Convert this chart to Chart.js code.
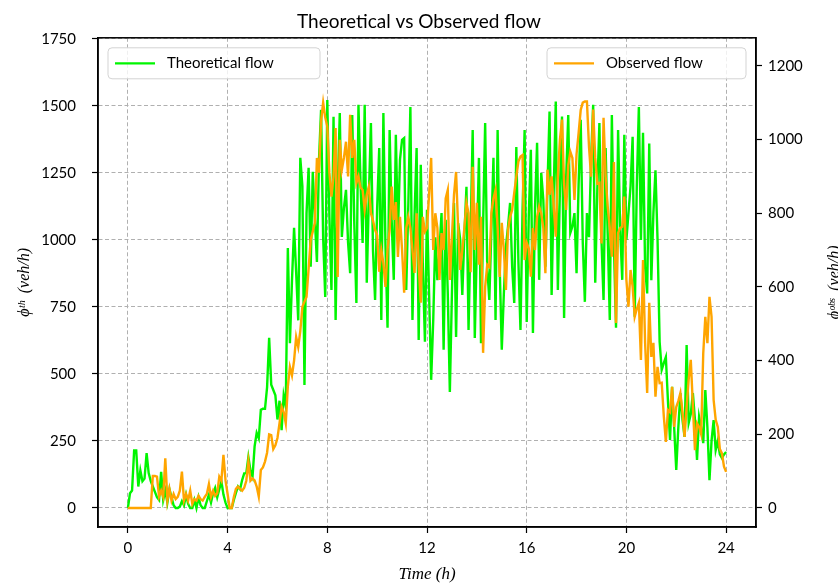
<!DOCTYPE html>
<html>
<head>
<meta charset="utf-8">
<script src="https://cdn.jsdelivr.net/npm/chart.js@4.4.1/dist/chart.umd.min.js"></script>
<style>
  html, body { margin: 0; padding: 0; background: #ffffff; overflow: hidden; }
  #wrap { width: 838px; height: 583px; position: relative; }
</style>
</head>
<body>
<div id="wrap"><canvas id="flowChart" width="838" height="583"></canvas></div>
<script>
// Tick positions for each axis
const timeTicks = [0, 4, 8, 12, 16, 20, 24];
const theoreticalTicks = [0, 250, 500, 750, 1000, 1250, 1500, 1750];
const observedTicks = [0, 200, 400, 600, 800, 1000, 1200];

// Time of day in hours, one sample every 5 minutes (0 h to 24 h)
const hours = Array.from({ length: 289 }, (_, i) => i / 12);

// Theoretical flow (veh/h), left axis
const theoreticalFlow = [
  0, 55, 65, 215, 215, 80, 140, 100, 110, 205, 130, 100,
  80, 60, 40, 30, 135, 30, 65, 20, 70, 40, 10, 0,
  0, 5, 25, 10, 50, 15, 0, 0, 30, 0, 40, 10,
  0, 0, 25, 50, 20, 55, 75, 40, 70, 100, 50, 20,
  0, 0, 0, 30, 56, 80, 70, 104, 129, 130, 190, 140,
  117, 230, 280, 260, 366, 370, 370, 450, 635, 460, 440, 420,
  330, 400, 290, 420, 380, 970, 615, 850, 1045, 880, 700, 1306,
  1200, 459, 1100, 1269, 900, 1254, 1080, 918, 1300, 1485, 1010, 787,
  1522, 1090, 813, 1459, 701, 1180, 1473, 1011, 1120, 1187, 990, 876,
  1466, 1060, 765, 1504, 1210, 989, 1504, 840, 1160, 1436, 960, 776,
  1120, 1343, 701, 1473, 980, 672, 1410, 1070, 851, 1392, 1020, 1300,
  1373, 1380, 813, 1130, 1496, 701, 1090, 1343, 627, 1280, 900, 620,
  1112, 800, 478, 700, 1010, 850, 963, 1100, 590, 1075, 800, 433,
  800, 1138, 638, 1063, 1000, 795, 1020, 1198, 664, 1030, 1410, 634,
  980, 1306, 615, 1050, 1436, 900, 776, 1040, 1306, 701, 1410, 900,
  590, 800, 974, 1050, 1138, 900, 765, 1347, 920, 664, 1110, 1410,
  694, 1090, 1336, 653, 1120, 1362, 851, 1250, 1150, 900, 1200, 1479,
  795, 1180, 1516, 813, 1190, 1460, 709, 1230, 1466, 1026, 1050, 1100,
  876, 1210, 1448, 990, 769, 1100, 1010, 1300, 1504, 840, 1190, 1436,
  1000, 776, 1343, 1020, 701, 1466, 980, 672, 1410, 1040, 851, 1392,
  1000, 1100, 1200, 1385, 713, 1200, 1496, 1000, 1400, 900, 800, 1360,
  850, 1100, 1260, 1000, 620, 515, 540, 563, 400, 254, 452, 300,
  142, 300, 429, 330, 265, 608, 317, 350, 429, 330, 179, 340,
  300, 242, 440, 300, 104, 250, 328, 216, 250, 200, 186, 200, 209
];

// Observed flow (veh/h), right axis
const observedFlow = [
  0, 0, 0, 0, 0, 0, 0, 0, 0, 0, 0, 0,
  87, 87, 85, 31, 47, 30, 135, 20, 52, 20, 38, 24,
  30, 47, 99, 20, 38, 20, 47, 11, 24, 20, 33, 24,
  20, 30, 38, 65, 30, 47, 33, 40, 85, 74, 144, 74,
  38, 0, 0, 30, 52, 58, 52, 47, 55, 74, 126, 74,
  80, 75, 58, 31, 103, 110, 126, 150, 200, 198, 160, 170,
  190, 230, 275, 260, 230, 330, 383, 360, 400, 464, 437, 480,
  546, 560, 573, 650, 728, 750, 774, 950, 910, 1050, 1100, 1060,
  1035, 910, 845, 900, 1031, 627, 999, 918, 950, 994, 900, 1067,
  950, 999, 882, 900, 870, 863, 809, 850, 872, 800, 780, 755,
  740, 641, 700, 665, 600, 700, 755, 872, 782, 830, 681, 790,
  700, 584, 760, 790, 760, 700, 638, 800, 660, 557, 790, 750,
  760, 850, 950, 700, 800, 760, 619, 746, 700, 840, 863, 619,
  736, 850, 912, 760, 646, 700, 760, 828, 800, 640, 926, 700,
  828, 660, 790, 421, 600, 660, 654, 800, 840, 863, 760, 627,
  774, 700, 592, 755, 790, 809, 855, 899, 940, 954, 958, 673,
  720, 705, 628, 760, 700, 790, 818, 800, 760, 637, 918, 850,
  900, 820, 736, 900, 1000, 1054, 880, 809, 930, 967, 950, 836,
  960, 1018, 1080, 1100, 1103, 1103, 980, 899, 1081, 950, 880, 882,
  718, 1059, 900, 818, 760, 682, 939, 502, 746, 760, 763, 845,
  619, 546, 646, 600, 519, 540, 557, 402, 673, 450, 312, 557,
  410, 448, 302, 383, 339, 340, 250, 179, 266, 260, 329, 220,
  274, 290, 312, 260, 193, 274, 350, 402, 280, 157, 230, 220,
  200, 420, 519, 447, 573, 519, 293, 239, 220, 160, 148, 112, 98
];

const GREEN = '#00f500';
const ORANGE = '#ffa500';
const tickFont = { family: 'Lato', size: 15 };
const mathFont = { family: "'Liberation Serif', 'DejaVu Serif', serif", style: 'italic', size: 16, lineHeight: 1.2 };
const plainNumber = (v) => String(v);

const fixedTicks = (values) => (scale) => { scale.ticks = values.map(v => ({ value: v })); };

// Black frame round the plotting area, drawn above the lines
const framePlugin = {
  id: 'frame',
  afterDatasetsDraw(chart) {
    const { ctx, chartArea: a } = chart;
    ctx.save();
    ctx.strokeStyle = '#000';
    ctx.lineWidth = 1.5;
    ctx.strokeRect(a.left, a.top, a.right - a.left, a.bottom - a.top);
    ctx.restore();
  }
};

function roundRect(ctx, x, y, w, h, r) {
  ctx.beginPath();
  ctx.moveTo(x + r, y);
  ctx.lineTo(x + w - r, y);
  ctx.quadraticCurveTo(x + w, y, x + w, y + r);
  ctx.lineTo(x + w, y + h - r);
  ctx.quadraticCurveTo(x + w, y + h, x + w - r, y + h);
  ctx.lineTo(x + r, y + h);
  ctx.quadraticCurveTo(x, y + h, x, y + h - r);
  ctx.lineTo(x, y + r);
  ctx.quadraticCurveTo(x, y, x + r, y);
  ctx.closePath();
}

// One legend box per axis: theoretical at top left, observed at top right
const dualLegendPlugin = {
  id: 'dualLegend',
  afterDraw(chart) {
    const { ctx, chartArea: a } = chart;
    const boxH = 31;
    const entries = [
      { ds: chart.data.datasets[1], x: a.left + 10, w: 212 },
      { ds: chart.data.datasets[0], x: a.right - 10 - 199, w: 199 }
    ];
    ctx.save();
    entries.forEach(({ ds, x, w }) => {
      const y = a.top + 10;
      roundRect(ctx, x, y, w, boxH, 4);
      ctx.fillStyle = 'rgba(255,255,255,0.8)';
      ctx.fill();
      ctx.strokeStyle = '#d3d3d3';
      ctx.lineWidth = 1;
      ctx.stroke();
      const cy = y + boxH / 2;
      ctx.strokeStyle = ds.borderColor;
      ctx.lineWidth = 2.2;
      ctx.beginPath();
      ctx.moveTo(x + 7, cy);
      ctx.lineTo(x + 47, cy);
      ctx.stroke();
      ctx.fillStyle = '#000';
      ctx.font = '15px Lato';
      ctx.textAlign = 'left';
      ctx.textBaseline = 'middle';
      ctx.fillText(ds.label, x + 59, cy);
    });
    ctx.restore();
  }
};

// Right axis title, reading upward like the left one
const rightTitlePlugin = {
  id: 'rightTitle',
  afterDraw(chart) {
    const { ctx, chartArea: a } = chart;
    ctx.save();
    ctx.translate(839, (a.top + a.bottom) / 2);
    ctx.rotate(-Math.PI / 2);
    ctx.font = "italic 16px 'Liberation Serif', 'DejaVu Serif', serif";
    ctx.fillStyle = '#000';
    ctx.textAlign = 'center';
    ctx.textBaseline = 'alphabetic';
    ctx.fillText('ϕᵒᵇˢ  (veh/h)', 0, 0);
    ctx.restore();
  }
};

const gridBase = { color: '#b0b0b0', lineWidth: 1, tickColor: '#000', tickLength: 6, tickWidth: 1.2 };
const borderBase = { display: true, color: '#000', width: 1.5, dash: [4, 2.5] };

new Chart(document.getElementById('flowChart'), {
  type: 'line',
  data: {
    datasets: [
      {
        label: 'Observed flow',
        data: hours.map((h, i) => ({ x: h, y: observedFlow[i] })),
        yAxisID: 'y2',
        borderColor: ORANGE,
        borderWidth: 2.4,
        pointRadius: 0,
        tension: 0,
        order: 0
      },
      {
        label: 'Theoretical flow',
        data: hours.map((h, i) => ({ x: h, y: theoreticalFlow[i] })),
        yAxisID: 'y',
        borderColor: GREEN,
        borderWidth: 2.4,
        pointRadius: 0,
        tension: 0,
        order: 1
      }
    ]
  },
  options: {
    responsive: false,
    animation: false,
    layout: { padding: 0 },
    plugins: {
      legend: { display: false },
      tooltip: { enabled: false },
      title: {
        display: true,
        text: 'Theoretical vs Observed flow',
        color: '#000',
        font: { family: 'Lato', size: 19, weight: 'normal' },
        padding: { top: 10, bottom: 5 }
      }
    },
    scales: {
      x: {
        type: 'linear',
        min: -1.2,
        max: 25.2,
        afterBuildTicks: fixedTicks(timeTicks),
        afterFit: (s) => { s.height = 56; },
        grid: gridBase,
        border: borderBase,
        ticks: { font: tickFont, color: '#000', padding: 6, maxRotation: 0, callback: plainNumber },
        title: { display: true, text: 'Time (h)', color: '#000', font: { ...mathFont, size: 17, lineHeight: 1 }, padding: 0 }
      },
      y: {
        position: 'left',
        min: -71,
        max: 1754,
        afterBuildTicks: fixedTicks(theoreticalTicks),
        afterFit: (s) => { s.width = 98; },
        grid: gridBase,
        border: borderBase,
        ticks: { font: tickFont, color: '#000', padding: 16, callback: plainNumber },
        title: { display: true, text: 'ϕᵗʰ  (veh/h)', color: '#000', font: mathFont, padding: { top: 15, bottom: 15 } }
      },
      y2: {
        position: 'right',
        min: -51.6,
        max: 1276,
        afterBuildTicks: fixedTicks(observedTicks),
        afterFit: (s) => { s.width = 82; },
        grid: { ...gridBase, drawOnChartArea: false },
        border: { display: true, color: '#000', width: 1.5 },
        ticks: { font: tickFont, color: '#000', padding: 6, callback: plainNumber }
      }
    }
  },
  plugins: [framePlugin, dualLegendPlugin, rightTitlePlugin]
});
</script>
</body>
</html>
